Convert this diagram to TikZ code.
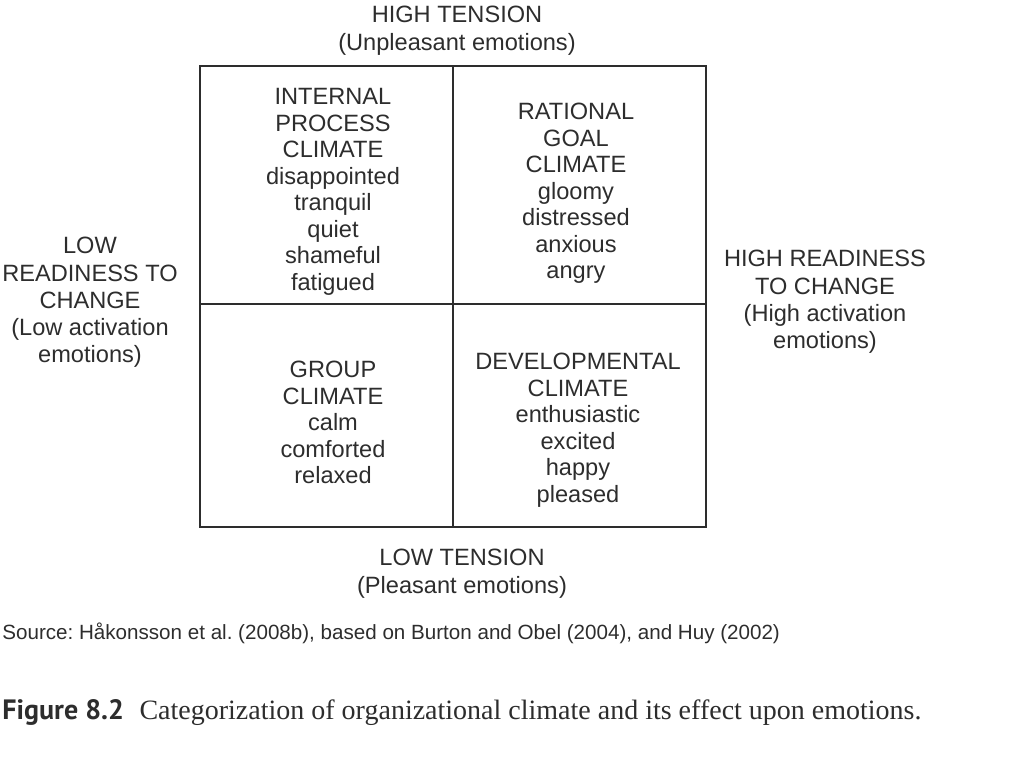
\documentclass[tikz,border=0pt]{standalone}
\usepackage{fontspec}
\setmainfont{Liberation Sans}
\newfontfamily\capserif{Liberation Serif}
\newfontfamily\capsans{PT Sans}
\usepackage{tikz}
\usetikzlibrary{positioning}
\frenchspacing
\definecolor{inkgray}{RGB}{45,45,45}
\tikzset{every node/.append style={align=center, text=inkgray},
         celltext/.style={font=\fontsize{11.8}{13.25}\selectfont, inner sep=0pt, anchor=north},
         axistext/.style={font=\fontsize{11.8}{13.6}\selectfont, inner sep=0pt, anchor=north}}

\begin{document}
\begin{tikzpicture}[x=0.5pt,y=-0.5pt]
\useasboundingbox (0,0) rectangle (1024,767);

% ── Quadrant grid ─────────────────────────────────────────────────────────────
\draw[inkgray, line width=0.9pt] (200,66) rectangle (706,527);
\draw[inkgray, line width=0.9pt] (453,66) -- (453,527);
\draw[inkgray, line width=0.9pt] (200,304) -- (706,304);

% ── Axis labels ───────────────────────────────────────────────────────────────
\node[axistext] (hightension) at (457,6) {HIGH TENSION\\(Unpleasant emotions)};
\node[axistext] (lowtension) at (462,549) {LOW TENSION\\(Pleasant emotions)};
\node[axistext] (lowready) at (90,237)
      {LOW\\READINESS TO\\CHANGE\\(Low activation\\emotions)};
\node[axistext] (highready) at (825,250)
      {HIGH READINESS\\TO CHANGE\\(High activation\\emotions)};

% ── Quadrant contents ─────────────────────────────────────────────────────────
\node[celltext] (internal) at (333,88)
      {INTERNAL\\PROCESS\\CLIMATE\\disappointed\\tranquil\\quiet\\shameful\\fatigued};
\node[celltext] (rational) at (576,103)
      {RATIONAL\\GOAL\\CLIMATE\\gloomy\\distressed\\anxious\\angry};
\node[celltext] (group) at (333,361)
      {GROUP\\CLIMATE\\calm\\comforted\\relaxed};
\node[celltext] (developmental) at (578,353)
      {DEVELOPMENTAL\\CLIMATE\\enthusiastic\\excited\\happy\\pleased};

% ── Source and caption ────────────────────────────────────────────────────────
\node[anchor=west, inner sep=0pt, font=\fontsize{10.3}{12}\selectfont] (source) at (2,633)
      {Source: Håkonsson et al. (2008b), based on Burton and Obel (2004), and Huy (2002)};
\node[anchor=west, inner sep=0pt, font=\fontsize{14}{16}\selectfont] (caption) at (2,713)
      {{\capsans\bfseries Figure 8.2}\ \ {\capserif Categorization of organizational climate and its effect upon emotions.}};

\end{tikzpicture}
\end{document}
